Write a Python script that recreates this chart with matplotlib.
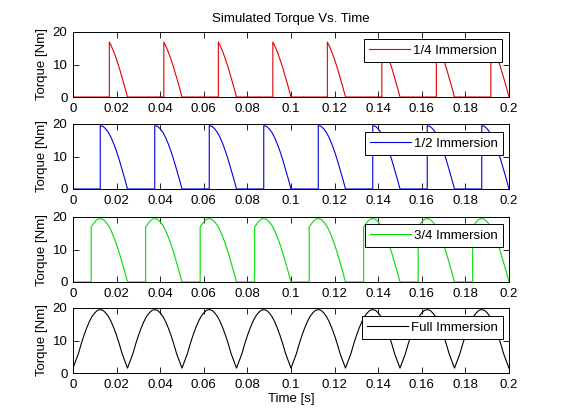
import matplotlib
matplotlib.use("Agg")
import matplotlib.pyplot as plt
import numpy as np

plt.rcParams['font.family'] = ['Liberation Sans', 'DejaVu Sans']

# ---- data ----
period = 0.025
tooth_starts = [0.0, 0.025, 0.05, 0.075, 0.1, 0.125, 0.15, 0.175]

# one tooth-pass profile (phase fraction within period, torque in Nm)
q_phase = [0.6667, 0.6667, 0.6668, 0.70, 0.75, 0.80, 0.85, 0.90, 0.95, 1.0]
q_torque = [0.0, 7.5, 16.9, 15.8, 13.8, 11.5, 8.9, 6.0, 3.1, 0.0]

h_phase = [0.5, 0.5001, 0.55, 0.60, 0.65, 0.70, 0.75, 0.80, 0.85, 0.90, 0.95, 1.0]
h_torque = [0.0, 19.5, 19.3, 18.5, 17.4, 15.8, 13.8, 11.5, 8.9, 6.0, 3.1, 0.0]

t_phase = [0.3333, 0.3334, 0.40, 0.45, 0.50, 0.55, 0.60, 0.65, 0.70, 0.75,
           0.80, 0.85, 0.90, 0.95, 1.0]
t_torque = [0.0, 16.9, 18.5, 19.3, 19.5, 19.3, 18.5, 17.4, 15.8, 13.8,
            11.5, 8.9, 6.0, 3.1, 0.0]

f_phase = [0.0, 0.10, 0.15, 0.20, 0.25, 0.30, 0.35, 0.40, 0.45, 0.50,
           0.55, 0.60, 0.65, 0.70, 0.75, 0.80, 0.85, 0.90]
f_torque = [1.5, 6.0, 8.9, 11.5, 13.8, 15.8, 17.4, 18.5, 19.3, 19.5,
            19.3, 18.5, 17.4, 15.8, 13.8, 11.5, 8.9, 6.0]
f_end = (1.0, 1.5)

labels = ['1/4 Immersion', '1/2 Immersion', '3/4 Immersion', 'Full Immersion']
colors = ['#e00000', '#0000e0', '#00dd00', '#000000']
xticks = [0, 0.02, 0.04, 0.06, 0.08, 0.1, 0.12, 0.14, 0.16, 0.18, 0.2]
xticklabels = ['0', '0.02', '0.04', '0.06', '0.08', '0.1', '0.12', '0.14',
               '0.16', '0.18', '0.2']
yticks = [0, 10, 20]


def build(phase, torque, lead_zero=True, end=None):
    ts, vs = [], []
    if lead_zero:
        ts.append(0.0)
        vs.append(0.0)
    for s in tooth_starts:
        ts.extend([s + p * period for p in phase])
        vs.extend(torque)
    if end is not None:
        ts.append(tooth_starts[-1] + end[0] * period)
        vs.append(end[1])
    return np.array(ts), np.array(vs)


series = [
    build(q_phase, q_torque),
    build(h_phase, h_torque),
    build(t_phase, t_torque),
    build(f_phase, f_torque, lead_zero=False, end=f_end),
]

W, H = 561, 420
fig = plt.figure(figsize=(W / 100, H / 100), dpi=100)
fig.patch.set_facecolor('white')

tops = [32, 124, 217, 308]
ax_h = 65
left_px, right_px = 73, 509
leg_anchor = [(0.984, 0.892), (0.986, 0.877), (0.986, 0.892), (0.986, 0.877)]
fs = 9.5

for i, ((t, v), lab, col) in enumerate(zip(series, labels, colors)):
    ax = fig.add_axes([left_px / W, 1 - (tops[i] + ax_h) / H,
                       (right_px - left_px) / W, ax_h / H])
    ax.plot(t, v, color=col, lw=0.8, label=lab)
    ax.set_xlim(0, 0.2)
    ax.set_ylim(0, 20)
    ax.set_xticks(xticks)
    ax.set_xticklabels(xticklabels)
    ax.set_yticks(yticks)
    ax.tick_params(direction='in', top=True, right=True, labelsize=fs,
                   length=4, width=0.6, pad=4)
    for sp in ax.spines.values():
        sp.set_linewidth(0.7)
    ax.set_ylabel('Torque [Nm]', fontsize=fs, labelpad=3)
    leg = ax.legend(loc='upper right', bbox_to_anchor=leg_anchor[i],
                    borderaxespad=0, fancybox=False, framealpha=1,
                    edgecolor='black', fontsize=fs, handlelength=3.1,
                    handletextpad=0.2, borderpad=0.4)
    leg.get_frame().set_linewidth(0.7)
    if i == 0:
        ax.set_title('Simulated Torque Vs. Time', fontsize=fs, pad=7)
    if i == 3:
        ax.set_xlabel('Time [s]', fontsize=fs, labelpad=2)

fig.savefig('out.png', dpi=100, facecolor='white')
